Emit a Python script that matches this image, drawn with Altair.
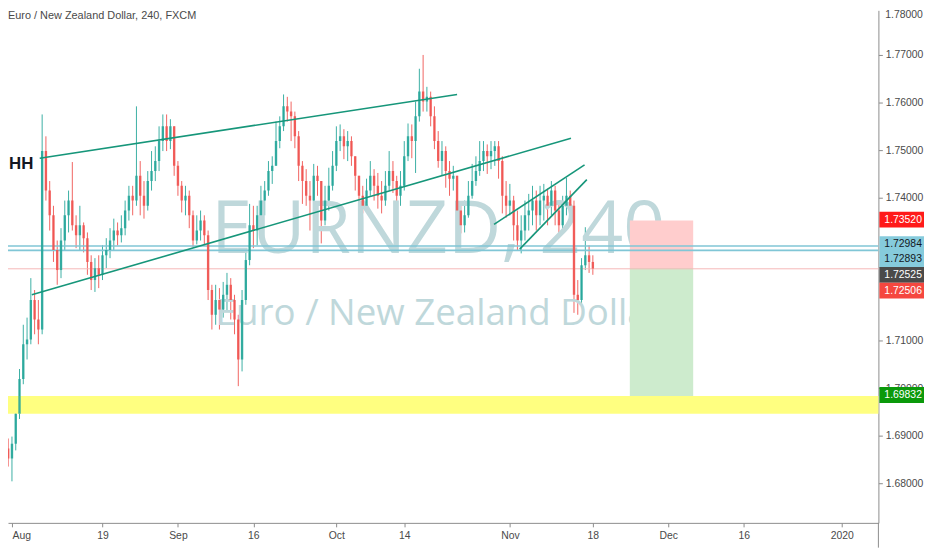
import altair as alt
import pandas as pd

# EUR/NZD 240, FXCM, two bars per trading day.
# bar_day counts trading days from Aug 1 2019 (weekends skipped, as on the chart)
bar_day = [i / 2 for i in range(-4, 155)]

first_open = 1.6925
closes = [
    1.6915, 1.6894, 1.6873, 1.6852,
    1.6883, 1.6946, 1.7019, 1.7092, 1.7102, 1.7185, 1.7144, 1.7123, 1.7498, 1.7415,
    1.7363, 1.7290, 1.7248, 1.7310, 1.7363, 1.7394, 1.7342, 1.7321, 1.7342, 1.7315,
    1.7265, 1.7227, 1.7252, 1.7238, 1.7279, 1.7290, 1.7310, 1.7331, 1.7321, 1.7336,
    1.7373, 1.7404, 1.7394, 1.7446, 1.7404, 1.7383, 1.7435, 1.7456, 1.7477, 1.7519,
    1.7550, 1.7519, 1.7550, 1.7467, 1.7425, 1.7394, 1.7404, 1.7363, 1.7310, 1.7331,
    1.7352, 1.7321, 1.7206, 1.7154, 1.7185, 1.7165, 1.7196, 1.7217, 1.7185, 1.7144,
    1.7060, 1.7185, 1.7269, 1.7342, 1.7331, 1.7363, 1.7394, 1.7415, 1.7456, 1.7467,
    1.7519, 1.7550, 1.7592, 1.7581, 1.7571, 1.7529, 1.7467, 1.7435, 1.7404, 1.7394,
    1.7446, 1.7435, 1.7352, 1.7394, 1.7425, 1.7467, 1.7519, 1.7529, 1.7508, 1.7519,
    1.7487, 1.7446, 1.7404, 1.7383, 1.7415, 1.7446, 1.7425, 1.7404, 1.7394, 1.7425,
    1.7456, 1.7435, 1.7404, 1.7425, 1.7487, 1.7529, 1.7519, 1.7571, 1.7623, 1.7602,
    1.7612, 1.7571, 1.7519, 1.7477, 1.7498, 1.7456, 1.7440, 1.7446, 1.7373, 1.7342,
    1.7363, 1.7404, 1.7435, 1.7456, 1.7477, 1.7498, 1.7487, 1.7498, 1.7508, 1.7477,
    1.7404, 1.7383, 1.7394, 1.7342, 1.7310, 1.7331, 1.7363, 1.7373, 1.7394, 1.7363,
    1.7394, 1.7404, 1.7383, 1.7415, 1.7373, 1.7342, 1.7383, 1.7404, 1.7383, 1.7196,
    1.7185, 1.7258, 1.7279, 1.7265, 1.7251,
]
highs = [
    1.6935, 1.6940, 1.6910, 1.6894,
    1.6898, 1.6960, 1.7040, 1.7133, 1.7148, 1.7231, 1.7206, 1.7185, 1.7575, 1.7529,
    1.7435, 1.7383, 1.7310, 1.7336, 1.7394, 1.7415, 1.7475, 1.7363, 1.7383, 1.7348,
    1.7327, 1.7279, 1.7273, 1.7279, 1.7300, 1.7315, 1.7336, 1.7356, 1.7348, 1.7363,
    1.7394, 1.7425, 1.7425, 1.7592, 1.7477, 1.7435, 1.7456, 1.7498, 1.7508, 1.7550,
    1.7575, 1.7575, 1.7565, 1.7550, 1.7477, 1.7435, 1.7425, 1.7415, 1.7373, 1.7363,
    1.7373, 1.7363, 1.7331, 1.7217, 1.7217, 1.7210, 1.7223, 1.7242, 1.7231, 1.7196,
    1.7154, 1.7206, 1.7290, 1.7387, 1.7383, 1.7383, 1.7425, 1.7435, 1.7477, 1.7487,
    1.7560, 1.7571, 1.7617, 1.7612, 1.7602, 1.7581, 1.7540, 1.7477, 1.7460, 1.7435,
    1.7471, 1.7467, 1.7435, 1.7425, 1.7463, 1.7498, 1.7550, 1.7554, 1.7544, 1.7540,
    1.7529, 1.7487, 1.7446, 1.7425, 1.7440, 1.7477, 1.7460, 1.7452, 1.7435, 1.7456,
    1.7498, 1.7477, 1.7446, 1.7456, 1.7519, 1.7556, 1.7554, 1.7602, 1.7671, 1.7700,
    1.7633, 1.7623, 1.7592, 1.7540, 1.7519, 1.7508, 1.7477, 1.7467, 1.7446, 1.7383,
    1.7394, 1.7435, 1.7471, 1.7487, 1.7519, 1.7519, 1.7512, 1.7519, 1.7519, 1.7519,
    1.7487, 1.7435, 1.7429, 1.7404, 1.7373, 1.7363, 1.7394, 1.7408, 1.7425, 1.7415,
    1.7425, 1.7429, 1.7419, 1.7435, 1.7425, 1.7394, 1.7404, 1.7442, 1.7415, 1.7394,
    1.7227, 1.7273, 1.7338, 1.7300, 1.7279,
]
lows = [
    1.6883, 1.6862, 1.6848, 1.6835,
    1.6804, 1.6869, 1.6935, 1.7008, 1.7060, 1.7092, 1.7113, 1.7092, 1.7113, 1.7394,
    1.7331, 1.7265, 1.7217, 1.7231, 1.7290, 1.7327, 1.7331, 1.7294, 1.7290, 1.7285,
    1.7238, 1.7206, 1.7202, 1.7210, 1.7227, 1.7252, 1.7273, 1.7290, 1.7300, 1.7306,
    1.7321, 1.7352, 1.7363, 1.7383, 1.7363, 1.7356, 1.7373, 1.7415, 1.7435, 1.7456,
    1.7498, 1.7498, 1.7502, 1.7446, 1.7404, 1.7369, 1.7363, 1.7336, 1.7296, 1.7302,
    1.7310, 1.7300, 1.7185, 1.7123, 1.7133, 1.7123, 1.7148, 1.7160, 1.7144, 1.7113,
    1.7004, 1.7035, 1.7175, 1.7258, 1.7294, 1.7300, 1.7327, 1.7363, 1.7404, 1.7429,
    1.7467, 1.7504, 1.7540, 1.7560, 1.7519, 1.7504, 1.7435, 1.7387, 1.7383, 1.7331,
    1.7383, 1.7404, 1.7304, 1.7342, 1.7373, 1.7415, 1.7456, 1.7498, 1.7481, 1.7477,
    1.7467, 1.7415, 1.7383, 1.7367, 1.7373, 1.7404, 1.7394, 1.7377, 1.7367, 1.7383,
    1.7415, 1.7410, 1.7367, 1.7383, 1.7415, 1.7477, 1.7483, 1.7452, 1.7560, 1.7581,
    1.7581, 1.7550, 1.7502, 1.7463, 1.7446, 1.7421, 1.7404, 1.7415, 1.7352, 1.7325,
    1.7327, 1.7358, 1.7398, 1.7425, 1.7446, 1.7456, 1.7450, 1.7460, 1.7467, 1.7440,
    1.7367, 1.7358, 1.7363, 1.7310, 1.7290, 1.7283, 1.7310, 1.7331, 1.7342, 1.7331,
    1.7342, 1.7352, 1.7342, 1.7363, 1.7342, 1.7317, 1.7327, 1.7363, 1.7363, 1.7158,
    1.7154, 1.7175, 1.7248, 1.7242, 1.7238,
]

# drawings on the chart
trend_x0 = [3.68, 2.63, 63.9, 67.3]
trend_p0 = [1.7483, 1.7196, 1.7344, 1.7292]
trend_x1 = [59.0, 74.1, 75.9, 76.2]
trend_p1 = [1.7617, 1.7525, 1.7469, 1.7438]

level_blue = [1.72984, 1.72893]
last_price = 1.72506
zone = [1.69458, 1.69832]

pos_days = [81.9, 90.3]
stop_price = 1.73520
entry_price = 1.72525
target_price = 1.69832

tag_prices = [1.73520, 1.72984, 1.72893, 1.72525, 1.72506, 1.69832]
tag_fill = ["#ff1a1a", "#86cbdc", "#86cbdc", "#4a4a4a", "#f5473f", "#0b990b"]
tag_ink = ["white", "#131722", "#131722", "white", "white", "white"]
tag_shift = [-1, -2, 9, 7, 22, -1]

tick_days = [0, 12, 22, 32, 43, 52, 66, 77, 87, 97, 110]
tick_names = ["Aug", "19", "Sep", "16", "Oct", "14", "Nov", "18", "Dec", "16", "2020"]
# 1.72 and 1.73 sit under the price tags, 1.78 is just above the plot edge
price_ticks = [1.68, 1.69, 1.70, 1.71, 1.74, 1.75, 1.76, 1.77]
top_tick = 1.78

watermark = ["EURNZD, 240", "Euro / New Zealand Dollar"]
header = "Euro / New Zealand Dollar, 240, FXCM"

W, H = 878, 517
AXIS_GREY = "#8c8c8c"
TEXT_GREY = "#4a4a4a"
WM_COLOR = "#bfd8db"

opens = [first_open] + closes[:-1]
candles = pd.DataFrame({"day": bar_day, "open": opens, "high": highs,
                        "low": lows, "close": closes})
candles["dir"] = ["up" if c >= o else "down" for o, c in zip(opens, closes)]

xscale = alt.Scale(domain=[-0.526, 114.85], nice=False, zero=False)
yscale = alt.Scale(domain=[1.671667, 1.779375], nice=False, zero=False)

label_expr = ("[" + ",".join(f"'{n}'" for n in tick_names) + "][indexof(["
              + ",".join(str(v) for v in tick_days) + "], datum.value)]")

x_axis = alt.Axis(orient="bottom", values=tick_days, labelExpr=label_expr, title=None,
                  grid=False, tickSize=4, tickColor=AXIS_GREY, domainColor=AXIS_GREY,
                  labelColor=TEXT_GREY, labelFont="Liberation Sans", labelFontSize=10.5,
                  labelPadding=4, labelOverlap=False, labelFlush=20, zindex=0)
y_axis = alt.Axis(orient="right", values=price_ticks, format=".5f", title=None,
                  grid=False, tickSize=4, tickColor=AXIS_GREY, domainColor=AXIS_GREY,
                  labelColor=TEXT_GREY, labelFont="Liberation Sans", labelFontSize=10.5,
                  labelPadding=3, labelOverlap=False, zindex=0)


def X(field):
    return alt.X(field, scale=xscale, axis=x_axis)


def Y(field):
    return alt.Y(field, scale=yscale, axis=y_axis)


candle_color = alt.Color("dir:N", scale=alt.Scale(domain=["up", "down"],
                                                   range=["#26a69a", "#ef5350"]), legend=None)

wicks = alt.Chart(candles).mark_rule(strokeWidth=1, clip=True, opacity=0.9).encode(
    x=X("day:Q"), y=Y("low:Q"), y2="high:Q", color=candle_color)
bodies = alt.Chart(candles).mark_rule(strokeWidth=2.4, clip=True, opacity=0.9).encode(
    x=X("day:Q"), y=Y("open:Q"), y2="close:Q", color=candle_color)

wm = pd.DataFrame({"t": watermark})
wm_big = alt.Chart(wm.iloc[[0]]).mark_text(
    font="Open Sans", fontSize=74, color=WM_COLOR, align="center", baseline="alphabetic"
).encode(x=alt.value(434), y=alt.value(245), text="t:N")
wm_small = alt.Chart(wm.iloc[[1]]).mark_text(
    font="Open Sans", fontSize=37, color=WM_COLOR, align="center", baseline="alphabetic"
).encode(x=alt.value(435), y=alt.value(317), text="t:N")

band = alt.Chart(pd.DataFrame({"lo": [zone[0]], "hi": [zone[1]]})).mark_rect(
    color="#ffff80").encode(y=Y("lo:Q"), y2="hi:Q")

risk = alt.Chart(pd.DataFrame({"d0": [pos_days[0]], "d1": [pos_days[1]],
                               "p0": [entry_price], "p1": [stop_price]})).mark_rect(
    color="#ffcdcd").encode(x=X("d0:Q"), x2="d1:Q", y=Y("p0:Q"), y2="p1:Q")
reward = alt.Chart(pd.DataFrame({"d0": [pos_days[0]], "d1": [pos_days[1]],
                                 "p0": [entry_price], "p1": [target_price]})).mark_rect(
    color="#cdebcd").encode(x=X("d0:Q"), x2="d1:Q", y=Y("p0:Q"), y2="p1:Q")

blue_lines = alt.Chart(pd.DataFrame({"p": level_blue})).mark_rule(
    color="#80c6d6", strokeWidth=1.6).encode(y=Y("p:Q"))
last_line = alt.Chart(pd.DataFrame({"p": [last_price]})).mark_rule(
    color="#f6b8b8", strokeWidth=1).encode(y=Y("p:Q"))

trends = alt.Chart(pd.DataFrame({"x0": trend_x0, "p0": trend_p0,
                                 "x1": trend_x1, "p1": trend_p1})).mark_rule(
    color="#16967a", strokeWidth=1.6).encode(x=X("x0:Q"), x2="x1:Q", y=Y("p0:Q"), y2="p1:Q")

hh = alt.Chart(pd.DataFrame({"t": ["HH"]})).mark_text(
    font="Liberation Sans", fontWeight="bold", fontSize=17, color="#131722",
    align="left", baseline="middle").encode(x=alt.value(1), y=alt.value(155), text="t:N")

head = alt.Chart(pd.DataFrame({"t": [header]})).mark_text(
    font="Liberation Sans", fontSize=11, color=TEXT_GREY, align="left", baseline="middle"
).encode(x=alt.value(0), y=alt.value(6), text="t:N")

top_label = alt.Chart(pd.DataFrame({"p": [top_tick], "label": [f"{top_tick:.5f}"]})).mark_text(
    font="Liberation Sans", fontSize=10.5, color=TEXT_GREY, align="left", baseline="middle",
    dy=8).encode(x=alt.value(W + 7), y=Y("p:Q"), text="label:N")

axis_tail = alt.Chart(pd.DataFrame({"k": [0]})).mark_rule(color=AXIS_GREY).encode(
    x=alt.value(W), y=alt.value(H), y2=alt.value(H + 25))

tags = []
for p, fill, ink, shift in zip(tag_prices, tag_fill, tag_ink, tag_shift):
    df = pd.DataFrame({"p": [p], "label": [f"{p:.5f}"]})
    tags.append(alt.Chart(df).mark_rect(color=fill, yOffset=shift - 8, y2Offset=shift + 8).encode(
        x=alt.value(W + 1), x2=alt.value(W + 46), y=Y("p:Q"), y2="p:Q"))
    tags.append(alt.Chart(df).mark_text(
        font="Liberation Sans", fontSize=10.5, color=ink, align="left", baseline="middle",
        dy=shift).encode(x=alt.value(W + 6), y=Y("p:Q"), text="label:N"))

chart = alt.layer(
    wicks, wm_big, wm_small, band, risk, reward, blue_lines, last_line, bodies, trends,
    hh, head, top_label, axis_tail, *tags
).properties(
    width=W, height=H,
    autosize=alt.AutoSizeParams(type="none"),
    padding={"left": 0, "top": 0, "right": 46, "bottom": 25},
    background="white",
).configure_view(strokeWidth=0)

chart.save("out.html", embed_options={"renderer": "svg", "actions": False})
